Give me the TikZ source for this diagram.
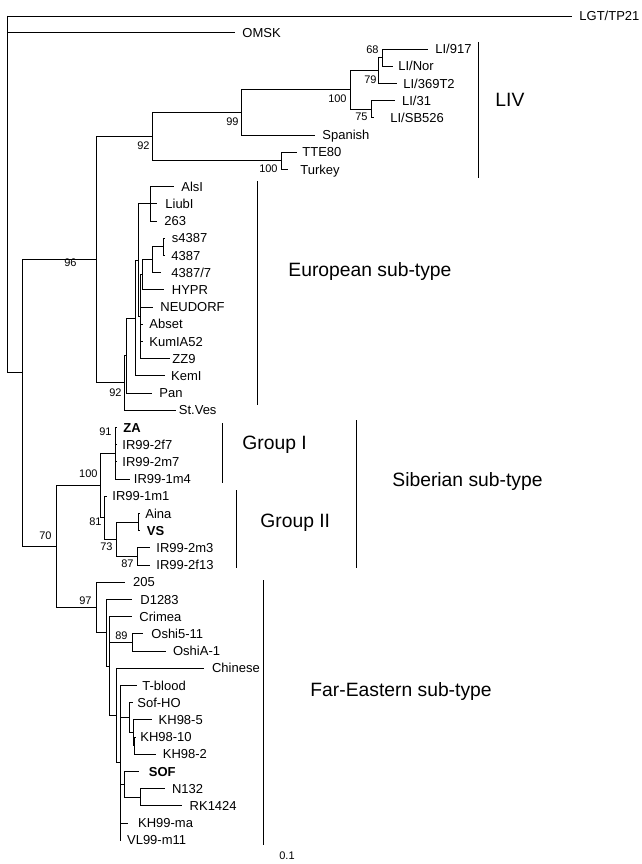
\documentclass[tikz,border=0pt]{standalone}
\usepackage{fontspec}
\setmainfont{Liberation Sans}
\begin{document}
\begin{tikzpicture}[x=1pt,y=-1pt,line width=0.8pt,
  tip/.style={anchor=base west,inner sep=0pt,font=\fontsize{13}{13}\selectfont,yshift=-4.65pt},
  tipb/.style={anchor=base west,inner sep=0pt,font=\fontsize{13}{13}\selectfont\bfseries,yshift=-4.65pt},
  bs/.style={anchor=east,inner sep=0pt,font=\fontsize{11}{11}\selectfont},
  grp/.style={anchor=base west,inner sep=0pt,font=\fontsize{19.3}{20}\selectfont,yshift=-6.9pt},
  bar/.style={line width=0.8pt}]
\useasboundingbox (0,0) rectangle (641,864);
% ---------- internal nodes ----------
\coordinate (root) at (7,16);
\coordinate (nR2) at (22.7,372);
\coordinate (n68) at (382.7,57.6);
\coordinate (n79) at (378.3,70.5);
\coordinate (n75) at (371.7,109.2);
\coordinate (n100a) at (350,89.85);
\coordinate (n99) at (241,112.4);
\coordinate (n100b) at (281,160.8);
\coordinate (n92a) at (152,136.6);
\coordinate (nAls) at (150,203.8);
\coordinate (n4387a) at (163.3,246.8);
\coordinate (n4387b) at (152.3,259.7);
\coordinate (nF) at (142.3,274.75);
\coordinate (nE) at (140.7,316.7);
\coordinate (nD) at (138.7,260.25);
\coordinate (nC) at (135.7,318.0);
\coordinate (nB) at (126.5,355.5);
\coordinate (n92b) at (124,382.85);
\coordinate (n96) at (96,259.7);
\coordinate (n91) at (115,453.2);
\coordinate (nAina) at (138.3,522);
\coordinate (n87) at (137.7,556.4);
\coordinate (n73) at (116,539.2);
\coordinate (n81) at (104.5,517.7);
\coordinate (n100c) at (100,485.45);
\coordinate (n89) at (132.7,642.4);
\coordinate (nNR) at (140.7,797.2);
\coordinate (nSOF) at (124,784.3);
\coordinate (nKH2) at (134.7,745.6);
\coordinate (nKH) at (133,732.7);
\coordinate (nSofHO) at (129,717.65);
\coordinate (nD2) at (120,762.8);
\coordinate (nC2) at (116.7,715.5);
\coordinate (nB2) at (109.3,666.05);
\coordinate (nA2) at (106,632.7);
\coordinate (n97) at (96.7,607.45);
\coordinate (n70) at (56.7,546.45);
% ---------- tips: branch ends and labels ----------
\coordinate (eLGT) at (572,16);  \node[tip] (tLGT) at (579,16) {LGT/TP21};
\coordinate (eOMSK) at (235,32.5); \node[tip] (tOMSK) at (242,32.5) {OMSK};
\coordinate (e0) at (428,49.0);  \node[tip] (t0) at (435,49.0) {LI/917};
\coordinate (e1) at (392.7,66.2); \node[tip] (t1) at (398,66.2) {LI/Nor};
\coordinate (e2) at (396.7,83.4); \node[tip] (t2) at (403,83.4) {LI/369T2};
\coordinate (e3) at (395,100.6); \node[tip] (t3) at (401.7,100.6) {LI/31};
\coordinate (e4) at (374,117.8); \node[tip] (t4) at (390,117.8) {LI/SB526};
\coordinate (e5) at (315,135.0); \node[tip] (t5) at (322,135.0) {Spanish};
\coordinate (e6) at (297,152.2); \node[tip] (t6) at (302,152.2) {TTE80};
\coordinate (e7) at (288,169.4); \node[tip] (t7) at (300,169.4) {Turkey};
\coordinate (e8) at (174,186.6); \node[tip] (t8) at (181,186.6) {AlsI};
\coordinate (e9) at (157,203.8); \node[tip] (t9) at (165,203.8) {LiubI};
\coordinate (e10) at (157,221.0); \node[tip] (t10) at (164,221.0) {263};
\coordinate (e11) at (165,238.2); \node[tip] (t11) at (171.5,238.2) {s4387};
\coordinate (e12) at (165,255.4); \node[tip] (t12) at (171,255.4) {4387};
\coordinate (e13) at (161,272.6); \node[tip] (t13) at (171,272.6) {4387/7};
\coordinate (e14) at (164,289.8); \node[tip] (t14) at (171.5,289.8) {HYPR};
\coordinate (e15) at (153.3,307.0); \node[tip] (t15) at (160,307.0) {NEUDORF};
\coordinate (e16) at (143,324.2); \node[tip] (t16) at (149,324.2) {Abset};
\coordinate (e17) at (143,341.4); \node[tip] (t17) at (149,341.4) {KumIA52};
\coordinate (e18) at (170,358.6); \node[tip] (t18) at (172,358.6) {ZZ9};
\coordinate (e19) at (165,375.8); \node[tip] (t19) at (170.7,375.8) {KemI};
\coordinate (e20) at (151.7,393.0); \node[tip] (t20) at (159,393.0) {Pan};
\coordinate (e21) at (176,410.2); \node[tip] (t21) at (178.5,410.2) {St.Ves};
\coordinate (e22) at (117,427.4); \node[tipb] (t22) at (123,427.4) {ZA};
\coordinate (e23) at (117,444.6); \node[tip] (t23) at (122,444.6) {IR99-2f7};
\coordinate (e24) at (117,461.8); \node[tip] (t24) at (122,461.8) {IR99-2m7};
\coordinate (e25) at (130,479.0); \node[tip] (t25) at (133.5,479.0) {IR99-1m4};
\coordinate (e26) at (107,496.2); \node[tip] (t26) at (112,496.2) {IR99-1m1};
\coordinate (e27) at (140,513.4); \node[tip] (t27) at (145,513.4) {Aina};
\coordinate (e28) at (140,530.6); \node[tipb] (t28) at (146.5,530.6) {VS};
\coordinate (e29) at (150,547.8); \node[tip] (t29) at (156,547.8) {IR99-2m3};
\coordinate (e30) at (150,565.0); \node[tip] (t30) at (156,565.0) {IR99-2f13};
\coordinate (e31) at (125,582.2); \node[tip] (t31) at (132.7,582.2) {205};
\coordinate (e32) at (131.7,599.4); \node[tip] (t32) at (140,599.4) {D1283};
\coordinate (e33) at (131.7,616.6); \node[tip] (t33) at (139,616.6) {Crimea};
\coordinate (e34) at (143.3,633.8); \node[tip] (t34) at (151,633.8) {Oshi5-11};
\coordinate (e35) at (165.7,651.0); \node[tip] (t35) at (172.7,651.0) {OshiA-1};
\coordinate (e36) at (204,668.2); \node[tip] (t36) at (211.7,668.2) {Chinese};
\coordinate (e37) at (136.7,685.4); \node[tip] (t37) at (142,685.4) {T-blood};
\coordinate (e38) at (133.3,702.6); \node[tip] (t38) at (137,702.6) {Sof-HO};
\coordinate (e39) at (151.7,719.8); \node[tip] (t39) at (158.3,719.8) {KH98-5};
\coordinate (e40) at (135,737.0); \node[tip] (t40) at (140,737.0) {KH98-10};
\coordinate (e41) at (156,754.2); \node[tip] (t41) at (162.5,754.2) {KH98-2};
\coordinate (e42) at (139,771.4); \node[tipb] (t42) at (148.5,771.4) {SOF};
\coordinate (e43) at (165,788.6); \node[tip] (t43) at (171.7,788.6) {N132};
\coordinate (e44) at (182,805.8); \node[tip] (t44) at (189.3,805.8) {RK1424};
\coordinate (e45) at (128.3,823.0); \node[tip] (t45) at (137.7,823.0) {KH99-ma};
\coordinate (e46) at (121,840.2); \node[tip] (t46) at (126.7,840.2) {VL99-m11};
% ---------- branches ----------
\draw (root) -- (eLGT);
\draw (root) |- (eOMSK);
\draw (root) |- (nR2);
\draw (nR2) |- (n96);
\draw (nR2) |- (n70);
% LIV and relatives
\draw (n96) |- (n92a);
\draw (n92a) |- (n99);
\draw (n92a) |- (n100b);
\draw (n99) |- (n100a);
\draw (n99) |- (e5);
\draw (n100a) |- (n79);
\draw (n100a) |- (n75);
\draw (n79) |- (n68);
\draw (n79) |- (e2);
\draw (n68) |- (e0);
\draw (n68) |- (e1);
\draw (n75) |- (e3);
\draw (n75) |- (e4);
\draw (n100b) |- (e6);
\draw (n100b) |- (e7);
% European
\draw (n96) |- (n92b);
\draw (n92b) |- (nB);
\draw (n92b) |- (e21);
\draw (nB) |- (nC);
\draw (nB) |- (e20);
\draw (nC) |- (nD);
\draw (nC) |- (e19);
\draw (nD) |- (nAls);
\draw (nD) |- (nE);
\draw (nAls) |- (e8);
\draw (nAls) |- (e9);
\draw (nAls) |- (e10);
\draw (nE) |- (nF);
\draw (nE) |- (e15);
\draw (nE) |- (e16);
\draw (nE) |- (e17);
\draw (nE) |- (e18);
\draw (nF) |- (n4387b);
\draw (nF) |- (e14);
\draw (n4387b) |- (n4387a);
\draw (n4387b) |- (e13);
\draw (n4387a) |- (e11);
\draw (n4387a) |- (e12);
% Siberian
\draw (n70) |- (n100c);
\draw (n70) |- (n97);
\draw (n100c) |- (n91);
\draw (n100c) |- (n81);
\draw (n91) |- (e22);
\draw (n91) |- (e23);
\draw (n91) |- (e24);
\draw (n91) |- (e25);
\draw (n81) |- (e26);
\draw (n81) |- (n73);
\draw (n73) |- (nAina);
\draw (n73) |- (n87);
\draw (nAina) |- (e27);
\draw (nAina) |- (e28);
\draw (n87) |- (e29);
\draw (n87) |- (e30);
% Far-Eastern
\draw (n97) |- (e31);
\draw (n97) |- (nA2);
\draw (nA2) |- (e32);
\draw (nA2) |- (nB2);
\draw (nB2) |- (e33);
\draw (nB2) |- (n89);
\draw (nB2) |- (nC2);
\draw (n89) |- (e34);
\draw (n89) |- (e35);
\draw (nC2) |- (e36);
\draw (nC2) |- (nD2);
\draw (nD2) |- (e37);
\draw (nD2) |- (nSofHO);
\draw (nD2) |- (nSOF);
\draw (nD2) |- (e45);
\draw (nD2) |- (e46);
\draw (nSofHO) |- (e38);
\draw (nSofHO) |- (nKH);
\draw (nKH) |- (e39);
\draw (nKH) |- (nKH2);
\draw (nKH2) |- (e40);
\draw (nKH2) |- (e41);
\draw (nSOF) |- (e42);
\draw (nSOF) |- (nNR);
\draw (nNR) |- (e43);
\draw (nNR) |- (e44);
% ---------- bootstrap values ----------
\node[bs] (b68) at (379,50) {68};
\node[bs] (b79) at (377,80) {79};
\node[bs] (b100a) at (347,99) {100};
\node[bs] (b75) at (368,117) {75};
\node[bs] (b99) at (239,122) {99};
\node[bs] (b92a) at (150,146) {92};
\node[bs] (b100b) at (278,169) {100};
\node[bs] (b96) at (77,263) {96};
\node[bs] (b92b) at (122,393) {92};
\node[bs] (b91) at (112,432) {91};
\node[bs] (b100c) at (98,474) {100};
\node[bs] (b81) at (102,522) {81};
\node[bs] (b73) at (113,546.7) {73};
\node[bs] (b87) at (134,564) {87};
\node[bs] (b70) at (52,536) {70};
\node[bs] (b97) at (92,600.7) {97};
\node[bs] (b89) at (128,636) {89};
% ---------- group bars and labels ----------
\coordinate (livT) at (478,42); \coordinate (livB) at (478,178);
\draw[bar] (livT) -- (livB);
\node[grp] (gLIV) at (495,100) {LIV};
\coordinate (euT) at (257,181); \coordinate (euB) at (257,405);
\draw[bar] (euT) -- (euB);
\node[grp] (gEU) at (288,270) {European sub-type};
\coordinate (g1T) at (222.7,423); \coordinate (g1B) at (222.7,483);
\draw[bar] (g1T) -- (g1B);
\node[grp] (gG1) at (242,443) {Group I};
\coordinate (g2T) at (236.7,490); \coordinate (g2B) at (236.7,568);
\draw[bar] (g2T) -- (g2B);
\node[grp] (gG2) at (260,521) {Group II};
\coordinate (sibT) at (356,420); \coordinate (sibB) at (356,568);
\draw[bar] (sibT) -- (sibB);
\node[grp] (gSIB) at (392,480) {Siberian sub-type};
\coordinate (feT) at (263,580); \coordinate (feB) at (263,845);
\draw[bar] (feT) -- (feB);
\node[grp] (gFE) at (310,690) {Far-Eastern sub-type};
\node[bs,anchor=center] (scale) at (287,856) {0.1};
\end{tikzpicture}
\end{document}
